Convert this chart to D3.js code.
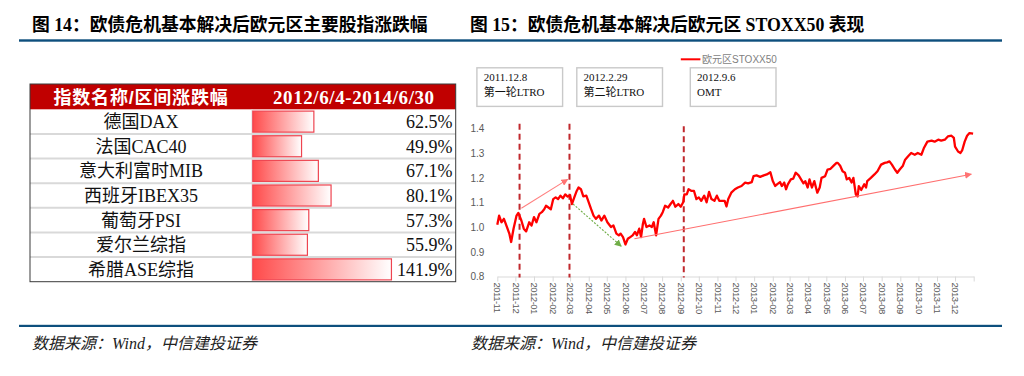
<!DOCTYPE html>
<html>
<head>
<meta charset="utf-8">
<script src="https://cdn.jsdelivr.net/npm/d3@7"></script>
<style>
  body { margin: 0; background: #fff; }
  svg { display: block; }
</style>
</head>
<body>
<div class="page"></div>
<script>
// left table
const indexNames = ["德国DAX", "法国CAC40", "意大利富时MIB", "西班牙IBEX35", "葡萄牙PSI", "爱尔兰综指", "希腊ASE综指"];
const indexChanges = [62.5, 49.9, 67.1, 80.1, 57.3, 55.9, 141.9];
const tableHeads = ["指数名称/区间涨跌幅", "2012/6/4-2014/6/30"];

// right chart: STOXX50 normalised
const stoxxDates = [
  "2011-11-01","2011-11-04","2011-11-08","2011-11-12","2011-11-16","2011-11-21","2011-11-24","2011-11-28",
  "2011-12-03","2011-12-06","2011-12-11","2011-12-15","2011-12-19","2011-12-24","2011-12-28",
  "2012-01-01","2012-01-05","2012-01-10","2012-01-14","2012-01-18","2012-01-21","2012-01-25","2012-01-29",
  "2012-02-02","2012-02-06","2012-02-10","2012-02-14","2012-02-18","2012-02-22","2012-02-26",
  "2012-03-01","2012-03-04","2012-03-08","2012-03-12","2012-03-15","2012-03-19","2012-03-23","2012-03-28",
  "2012-04-01","2012-04-05","2012-04-09","2012-04-13","2012-04-18","2012-04-22","2012-04-27",
  "2012-05-02","2012-05-08","2012-05-12","2012-05-17","2012-05-21","2012-05-24","2012-05-28",
  "2012-06-01","2012-06-05","2012-06-09","2012-06-13","2012-06-17","2012-06-20","2012-06-24","2012-06-27","2012-06-30",
  "2012-07-02","2012-07-06","2012-07-11","2012-07-15","2012-07-18","2012-07-22","2012-07-26","2012-07-30",
  "2012-08-02","2012-08-06","2012-08-11","2012-08-15","2012-08-19","2012-08-23","2012-08-28",
  "2012-09-01","2012-09-05","2012-09-07","2012-09-11","2012-09-14","2012-09-19","2012-09-23","2012-09-27",
  "2012-10-01","2012-10-05","2012-10-10","2012-10-14","2012-10-18","2012-10-22","2012-10-27","2012-10-31",
  "2012-11-04","2012-11-10","2012-11-13","2012-11-16","2012-11-19","2012-11-24","2012-11-30",
  "2012-12-05","2012-12-11","2012-12-17","2012-12-22","2012-12-28","2012-12-31",
  "2013-01-05","2013-01-11","2013-01-17","2013-01-22","2013-01-28",
  "2013-02-01","2013-02-05","2013-02-08","2013-02-13","2013-02-16","2013-02-20","2013-02-23","2013-02-26",
  "2013-03-03","2013-03-07","2013-03-11","2013-03-16","2013-03-20","2013-03-24","2013-03-27","2013-03-31",
  "2013-04-03","2013-04-07","2013-04-11","2013-04-16","2013-04-20","2013-04-23","2013-04-29",
  "2013-05-03","2013-05-08","2013-05-14","2013-05-18","2013-05-20","2013-05-24","2013-05-28",
  "2013-06-01","2013-06-04","2013-06-08","2013-06-12","2013-06-15","2013-06-19","2013-06-22","2013-06-24","2013-06-28",
  "2013-07-03","2013-07-06","2013-07-08","2013-07-14","2013-07-20","2013-07-25","2013-07-31",
  "2013-08-06","2013-08-10","2013-08-14","2013-08-18","2013-08-23","2013-08-27","2013-08-31",
  "2013-09-05","2013-09-09","2013-09-14","2013-09-19","2013-09-25","2013-09-30",
  "2013-10-06","2013-10-10","2013-10-16","2013-10-23","2013-10-28",
  "2013-11-03","2013-11-08","2013-11-14","2013-11-19","2013-11-25","2013-11-29",
  "2013-12-01","2013-12-06","2013-12-10","2013-12-13","2013-12-17","2013-12-21","2013-12-25","2013-12-31"
];
const stoxxValues = [
  1.010,1.047,1.020,1.034,1.007,0.974,0.940,0.994,
  1.047,1.058,1.027,0.994,0.983,1.020,1.007,
  1.041,1.020,1.054,1.061,1.073,1.087,1.080,1.073,
  1.114,1.121,1.114,1.128,1.117,1.133,1.124,
  1.130,1.094,1.121,1.147,1.161,1.154,1.125,1.128,
  1.101,1.073,1.047,1.034,1.047,1.027,1.047,
  1.020,1.001,1.007,0.974,0.967,0.974,0.960,
  0.930,0.953,0.960,0.967,0.981,0.967,0.994,0.960,1.013,
  1.034,1.001,1.007,1.001,1.020,0.967,1.034,1.047,
  1.061,1.087,1.080,1.094,1.107,1.083,1.094,
  1.083,1.101,1.133,1.133,1.154,1.147,1.147,1.114,
  1.121,1.107,1.128,1.101,1.143,1.114,1.107,1.128,
  1.107,1.107,1.107,1.084,1.114,1.140,1.154,
  1.161,1.167,1.181,1.178,1.183,1.207,
  1.210,1.204,1.210,1.214,1.223,
  1.187,1.167,1.174,1.183,1.167,1.181,1.154,1.174,
  1.194,1.197,1.221,1.210,1.194,1.178,1.187,1.161,
  1.194,1.161,1.187,1.140,1.161,1.200,1.207,
  1.234,1.237,1.252,1.261,1.261,1.249,1.227,
  1.221,1.194,1.200,1.181,1.200,1.133,1.125,1.167,1.151,
  1.174,1.161,1.187,1.200,1.214,1.227,1.254,
  1.261,1.263,1.267,1.254,1.234,1.221,1.234,
  1.248,1.274,1.288,1.301,1.294,1.301,
  1.294,1.320,1.347,1.351,1.347,
  1.355,1.351,1.355,1.368,1.371,1.362,
  1.327,1.307,1.301,1.313,1.347,1.371,1.382,1.380
];
const yTicks = [0.8, 0.9, 1.0, 1.1, 1.2, 1.3, 1.4];
const seriesName = "欧元区STOXX50";

// events (dashed lines + note boxes)
const eventDates = ["2011-12-08", "2012-02-29", "2012-09-06"];
const eventTops = [1.42, 1.42, 1.41];
const eventTitles = ["2011.12.8", "2012.2.29", "2012.9.6"];
const eventNotes = ["第一轮LTRO", "第二轮LTRO", "OMT"];

// trend arrows
const trendFromDates = ["2011-12-11", "2012-03-06", "2012-06-16"];
const trendFromValues = [1.077, 1.094, 0.953];
const trendToDates = ["2012-02-26", "2012-05-25", "2013-12-28"];
const trendToValues = [1.194, 0.923, 1.215];

const titles = ["图 14：欧债危机基本解决后欧元区主要股指涨跌幅", "图 15：欧债危机基本解决后欧元区 STOXX50 表现"];
const sourceNote = "数据来源：Wind，中信建投证券";

const w = 1024;
const h = 376;
const parse = d3.timeParse("%Y-%m-%d");
const serif = "'Liberation Serif', 'Times New Roman', 'Noto Sans CJK SC', serif";
const sans = "'Liberation Sans', Arial, 'Noto Sans CJK SC', sans-serif";

const svg = d3.select(".page")
    .append("svg")
    .attr("width", w)
    .attr("height", h);

const defs = svg.append("defs");
const grad = defs.append("linearGradient").attr("id", "barGrad");
grad.append("stop").attr("offset", "0%").attr("stop-color", "#ff4a4a");
grad.append("stop").attr("offset", "100%").attr("stop-color", "#ffffff");

const addMarker = (id, color) => {
    defs.append("marker")
        .attr("id", id)
        .attr("viewBox", "0 0 10 10")
        .attr("refX", 9).attr("refY", 5)
        .attr("markerWidth", 7).attr("markerHeight", 7)
        .attr("markerUnits", "userSpaceOnUse")
        .attr("orient", "auto")
        .append("path")
        .attr("d", "M0,0 L10,5 L0,10 z")
        .attr("fill", color);
};
addMarker("arrPink", "#ff7373");
addMarker("arrGreen", "#70ad47");

// page titles and rules
svg.selectAll(".title")
    .data(titles)
    .enter()
    .append("text")
    .attr("class", "title")
    .attr("x", (d, i) => i ? 470 : 32)
    .attr("y", 31)
    .style("font-family", serif)
    .style("font-weight", "bold")
    .style("font-size", "17.8px")
    .attr("fill", "#000")
    .text(d => d);

svg.append("rect").attr("x", 19).attr("y", 39.3).attr("width", 983).attr("height", 2.4).attr("fill", "#0d4f7d");
svg.append("rect").attr("x", 19).attr("y", 324.8).attr("width", 983).attr("height", 2.2).attr("fill", "#0d4f7d");

svg.selectAll(".source")
    .data([32, 471])
    .enter()
    .append("text")
    .attr("x", d => d)
    .attr("y", 349)
    .style("font-family", serif)
    .style("font-style", "italic")
    .style("font-size", "16px")
    .attr("fill", "#222")
    .text(sourceNote);

// ---------- table ----------
const tX = 30, tR = 455.7, tTop = 84, headB = 109.3, tBottom = 281.7, colX = 252;
const rowScale = d3.scaleBand().domain(indexNames).range([headB, tBottom]);
const barScale = d3.scaleLinear().domain([0, 100]).range([0, 97.7]);

const table = svg.append("g").attr("id", "table");
table.append("rect")
    .attr("x", tX).attr("y", tTop).attr("width", tR - tX).attr("height", headB - tTop)
    .attr("fill", "#c00000");

table.selectAll(".sep")
    .data(indexNames.slice(1))
    .enter()
    .append("line")
    .attr("x1", tX).attr("x2", tR)
    .attr("y1", d => rowScale(d)).attr("y2", d => rowScale(d))
    .attr("stroke", "#d9d9d9").attr("stroke-width", 2);

table.append("line")
    .attr("x1", colX).attr("x2", colX).attr("y1", headB).attr("y2", tBottom)
    .attr("stroke", "#d9d9d9").attr("stroke-width", 1);

table.selectAll(".bar")
    .data(indexChanges)
    .enter()
    .append("rect")
    .attr("x", colX + 0.8)
    .attr("y", (d, i) => rowScale(indexNames[i]) + 1.8)
    .attr("width", d => barScale(d))
    .attr("height", rowScale.bandwidth() - 3.6)
    .attr("fill", "url(#barGrad)")
    .attr("stroke", "#ee4450")
    .attr("stroke-width", 1.2);

table.selectAll(".name")
    .data(indexNames)
    .enter()
    .append("text")
    .attr("x", (tX + colX) / 2)
    .attr("y", d => rowScale(d) + rowScale.bandwidth() / 2)
    .attr("dy", "0.36em")
    .attr("text-anchor", "middle")
    .style("font-family", serif)
    .style("font-size", "18px")
    .attr("fill", "#111")
    .text(d => d);

table.selectAll(".val")
    .data(indexChanges)
    .enter()
    .append("text")
    .attr("x", 452.5)
    .attr("y", (d, i) => rowScale(indexNames[i]) + rowScale.bandwidth() / 2)
    .attr("dy", "0.36em")
    .attr("text-anchor", "end")
    .style("font-family", serif)
    .style("font-size", "18px")
    .attr("fill", "#111")
    .text(d => d.toFixed(1) + "%");

table.selectAll(".head")
    .data(tableHeads)
    .enter()
    .append("text")
    .attr("x", (d, i) => i ? (colX + tR) / 2 : (tX + colX) / 2)
    .attr("y", 103.5)
    .attr("text-anchor", "middle")
    .style("font-family", (d, i) => i ? serif : sans)
    .style("font-size", (d, i) => i ? "19px" : "18px")
    .style("letter-spacing", (d, i) => i ? "0.6px" : "0.8px")
    .style("font-weight", "bold")
    .attr("fill", "#fff")
    .text(d => d);

table.append("rect")
    .attr("x", tX).attr("y", tTop).attr("width", tR - tX).attr("height", tBottom - tTop)
    .attr("fill", "none").attr("stroke", "#3a3a3a").attr("stroke-width", 1);

// ---------- line chart ----------
const data = stoxxDates.map((d, i) => ({ date: parse(d), value: stoxxValues[i] }));
const x0 = new Date(2011, 10, 1), x1 = new Date(2014, 0, 1);
const scaleX = d3.scaleTime().domain([x0, x1]).range([497.3, 973.7]);
const scaleY = d3.scaleLinear().domain([0.8, 1.4]).range([276.5, 128.6]);

const chart = svg.append("g").attr("id", "chart");

const yAxis = d3.axisLeft(scaleY).tickValues(yTicks).tickFormat(d3.format(".1f")).tickSize(0).tickPadding(13);
chart.append("g")
    .attr("transform", `translate(${497.3}, 0)`)
    .call(yAxis)
    .call(g => g.select(".domain").remove())
    .call(g => g.selectAll("text")
        .style("font-family", sans).style("font-size", "10px").attr("fill", "#595959"));

const months = d3.timeMonth.range(x0, d3.timeDay.offset(x1, 1));
const xAxis = d3.axisBottom(scaleX)
    .tickValues(months)
    .tickFormat(d => +d === +x1 ? "" : d3.timeFormat("%Y-%m")(d))
    .tickSize(5)
    .tickSizeOuter(0);
chart.append("g")
    .attr("transform", `translate(0, ${scaleY(0.8)})`)
    .call(xAxis)
    .call(g => g.select(".domain").attr("stroke", "#d9d9d9"))
    .call(g => g.selectAll(".tick line").attr("stroke", "#d9d9d9"))
    .call(g => g.selectAll("text")
        .attr("transform", "rotate(90)")
        .attr("x", 6).attr("y", 0).attr("dy", "0.35em")
        .style("text-anchor", "start")
        .style("font-family", sans).style("font-size", "9.5px")
        .style("letter-spacing", "-0.5px")
        .attr("fill", "#595959"));

// event dashed lines
chart.selectAll(".event")
    .data(eventDates)
    .enter()
    .append("line")
    .attr("x1", d => scaleX(parse(d))).attr("x2", d => scaleX(parse(d)))
    .attr("y1", (d, i) => scaleY(eventTops[i]))
    .attr("y2", scaleY(0.8) + 1)
    .attr("stroke", "#c0282d")
    .attr("stroke-width", 2)
    .attr("stroke-dasharray", "6,4");

// price line
const line = d3.line().x(d => scaleX(d.date)).y(d => scaleY(d.value));
chart.append("path")
    .datum(data)
    .attr("d", line)
    .attr("fill", "none")
    .attr("stroke", "#ff0000")
    .attr("stroke-width", 2.3)
    .attr("stroke-linejoin", "round");

// trend arrows
const arrowStyle = [
    { color: "#ff7f7f", dash: null, marker: "arrPink" },
    { color: "#70ad47", dash: "2,1.5", marker: "arrGreen" },
    { color: "#ff6f6f", dash: null, marker: "arrPink" }
];
chart.selectAll(".trend")
    .data(trendFromDates)
    .enter()
    .append("line")
    .attr("x1", d => scaleX(parse(d)))
    .attr("y1", (d, i) => scaleY(trendFromValues[i]))
    .attr("x2", (d, i) => scaleX(parse(trendToDates[i])))
    .attr("y2", (d, i) => scaleY(trendToValues[i]))
    .attr("stroke", (d, i) => arrowStyle[i].color)
    .attr("stroke-width", 1.1)
    .attr("stroke-dasharray", (d, i) => arrowStyle[i].dash)
    .attr("marker-end", (d, i) => `url(#${arrowStyle[i].marker})`);

// legend
chart.append("line")
    .attr("x1", 680.8).attr("x2", 700.4).attr("y1", 59.3).attr("y2", 59.3)
    .attr("stroke", "#ff0000").attr("stroke-width", 2);
chart.append("text")
    .attr("x", 702).attr("y", 59.3).attr("dy", "0.36em")
    .style("font-family", sans).style("font-size", "10px")
    .attr("fill", "#7f7f7f")
    .text(seriesName);

// note boxes
const boxX = [476.9, 576.8, 690.3];
const notes = chart.selectAll(".note")
    .data(eventTitles)
    .enter()
    .append("g")
    .attr("transform", (d, i) => `translate(${boxX[i]}, 67.8)`);
notes.append("rect")
    .attr("width", 85.7).attr("height", 38.6)
    .attr("fill", "#fff").attr("stroke", "#c9c9c9").attr("stroke-width", 1.4);
notes.append("text")
    .attr("x", 6.8).attr("y", 12.8)
    .style("font-family", serif).style("font-size", "11px")
    .attr("fill", "#111")
    .text(d => d);
notes.append("text")
    .attr("x", 6.8).attr("y", 28.1)
    .style("font-family", serif).style("font-size", "11px")
    .attr("fill", "#111")
    .text((d, i) => eventNotes[i]);
</script>
</body>
</html>
